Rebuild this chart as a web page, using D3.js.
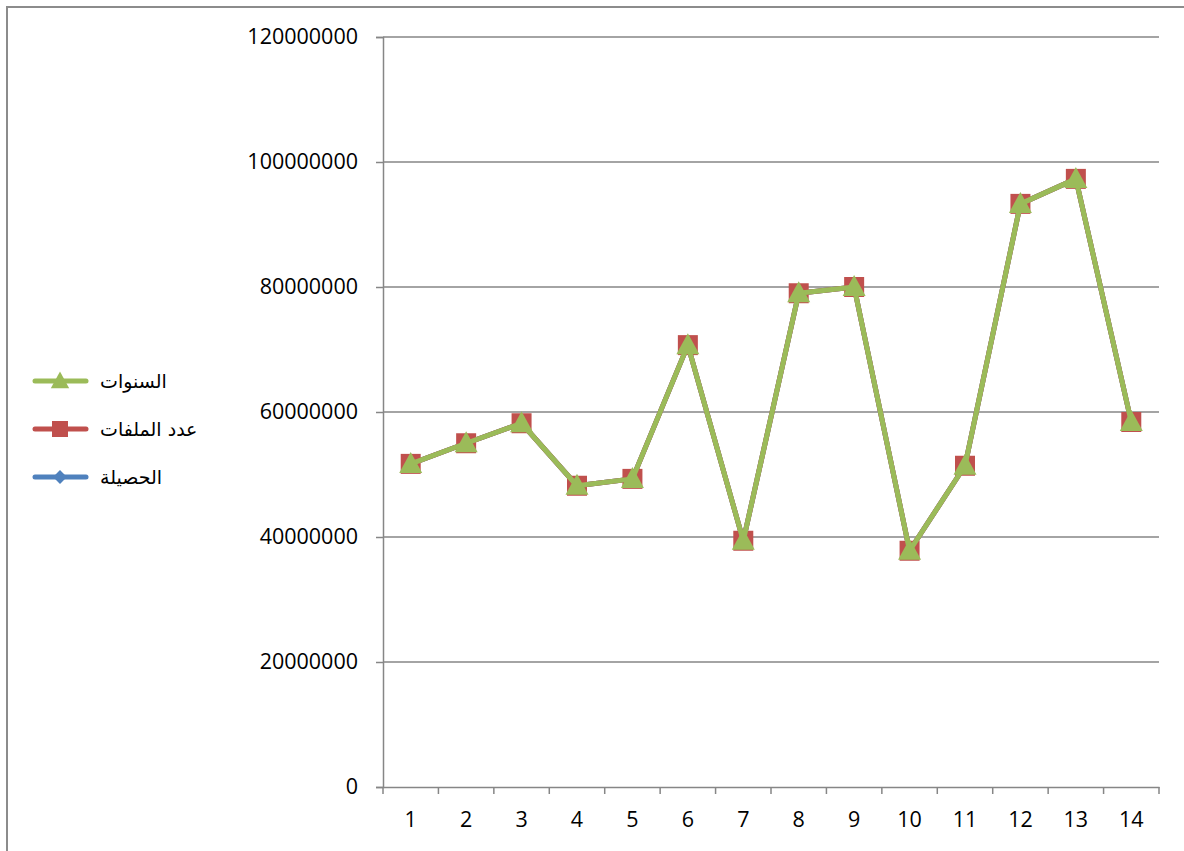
<!DOCTYPE html>
<html>
<head>
<meta charset="utf-8">
<script src="https://cdn.jsdelivr.net/npm/d3@7/dist/d3.min.js"></script>
<style>
  html, body { margin: 0; padding: 0; background: #fff; }
  svg { display: block; }
</style>
</head>
<body>
<svg id="chart" width="1184" height="851"></svg>
<script>
const categories = ["1","2","3","4","5","6","7","8","9","10","11","12","13","14"];
const seriesNames = ["الحصيلة", "عدد الملفات", "السنوات"];
const revenue = [51700000, 55000000, 58200000, 48200000, 49300000, 70700000, 39400000, 79000000, 80000000, 37800000, 51400000, 93300000, 97300000, 58400000];
const files   = [51700000, 55000000, 58200000, 48200000, 49300000, 70700000, 39400000, 79000000, 80000000, 37800000, 51400000, 93300000, 97300000, 58400000];
const years   = [51700000, 55000000, 58200000, 48200000, 49300000, 70700000, 39400000, 79000000, 80000000, 37800000, 51400000, 93300000, 97300000, 58400000];
const yTicks = [0, 20000000, 40000000, 60000000, 80000000, 100000000, 120000000];

(function () {
const svg = d3.select("#chart");
const pLeft = 383, pRight = 1159, pTop = 37, pBottom = 787;
const numFont = "'Open Sans', Lato, sans-serif";
const arFont = "'DejaVu Sans', sans-serif";

// outer border
svg.append("rect").attr("x", 7).attr("y", 7).attr("width", 1200).attr("height", 900)
  .attr("fill", "none").attr("stroke", "#8c8c8c").attr("stroke-width", 2);

const x = d3.scaleBand().domain(categories).range([pLeft, pRight]).padding(0);
const y = d3.scaleLinear().domain([0, 120000000]).range([pBottom, pTop]);

// gridlines
svg.append("g").selectAll("line").data(yTicks.filter(d => d > 0)).join("line")
  .attr("x1", pLeft).attr("x2", pRight)
  .attr("y1", d => y(d)).attr("y2", d => y(d))
  .attr("stroke", "#868686").attr("stroke-width", 1.5);

// y axis
const yAxis = svg.append("g").attr("transform", `translate(${pLeft},0)`)
  .call(d3.axisLeft(y).tickValues(yTicks).tickSize(7).tickPadding(18).tickFormat(d3.format("d")));
yAxis.select(".domain").attr("stroke", "#868686").attr("stroke-width", 1.5);
yAxis.selectAll(".tick line").attr("stroke", "#868686").attr("stroke-width", 1.5);
yAxis.selectAll("text").attr("font-family", numFont).attr("font-size", 21.5).attr("fill", "#000");

// x axis
const xAxis = svg.append("g").attr("transform", `translate(0,${pBottom})`)
  .call(d3.axisBottom(x).tickSize(0).tickPadding(25));
xAxis.select(".domain").attr("stroke", "#868686").attr("stroke-width", 1.5);
xAxis.selectAll("text").attr("font-family", numFont).attr("font-size", 21.5).attr("fill", "#000");
// category boundary ticks
const bounds = categories.map(c => x(c)).concat([pRight]);
svg.append("g").selectAll("line").data(bounds).join("line")
  .attr("x1", d => d).attr("x2", d => d)
  .attr("y1", pBottom).attr("y2", pBottom + 7)
  .attr("stroke", "#868686").attr("stroke-width", 1.5);

const cx = d => x(d) + x.bandwidth() / 2;
const line = d3.line().x((d, i) => cx(categories[i])).y(d => y(d));

const series = [
  { name: seriesNames[0], values: revenue, color: "#4F81BD", marker: "diamond" },
  { name: seriesNames[1], values: files, color: "#C0504D", marker: "square" },
  { name: seriesNames[2], values: years, color: "#9BBB59", marker: "triangle" }
];

function markerPath(type) {
  if (type === "diamond") return d3.symbol().type(d3.symbolDiamond2).size(190)();
  if (type === "square") return d3.symbol().type(d3.symbolSquare).size(400)();
  return "M0,-12L11.5,9L-11.5,9Z";
}

series.forEach(s => {
  const g = svg.append("g");
  g.append("path").datum(s.values).attr("d", line)
    .attr("fill", "none").attr("stroke", s.color).attr("stroke-width", 5)
    .attr("stroke-linejoin", "round").attr("stroke-linecap", "round");
  g.selectAll("path.m").data(s.values).join("path").attr("class", "m")
    .attr("d", markerPath(s.marker))
    .attr("transform", (d, i) => `translate(${cx(categories[i])},${y(d)})`)
    .attr("fill", s.color);
});

// legend
const legendItems = [series[2], series[1], series[0]];
const lg = svg.append("g");
legendItems.forEach((s, i) => {
  const ly = 381 + i * 48;
  lg.append("line").attr("x1", 35).attr("x2", 86).attr("y1", ly).attr("y2", ly)
    .attr("stroke", s.color).attr("stroke-width", 5).attr("stroke-linecap", "round");
  lg.append("path").attr("d", markerPath(s.marker))
    .attr("transform", `translate(60,${ly}) scale(0.8)`).attr("fill", s.color);
  lg.append("text").attr("x", 100).attr("y", ly + 7)
    .attr("font-family", arFont).attr("font-size", 19).attr("fill", "#000")
    .attr("text-anchor", "start")
    .text(s.name);
});
})();
</script>
</body>
</html>
